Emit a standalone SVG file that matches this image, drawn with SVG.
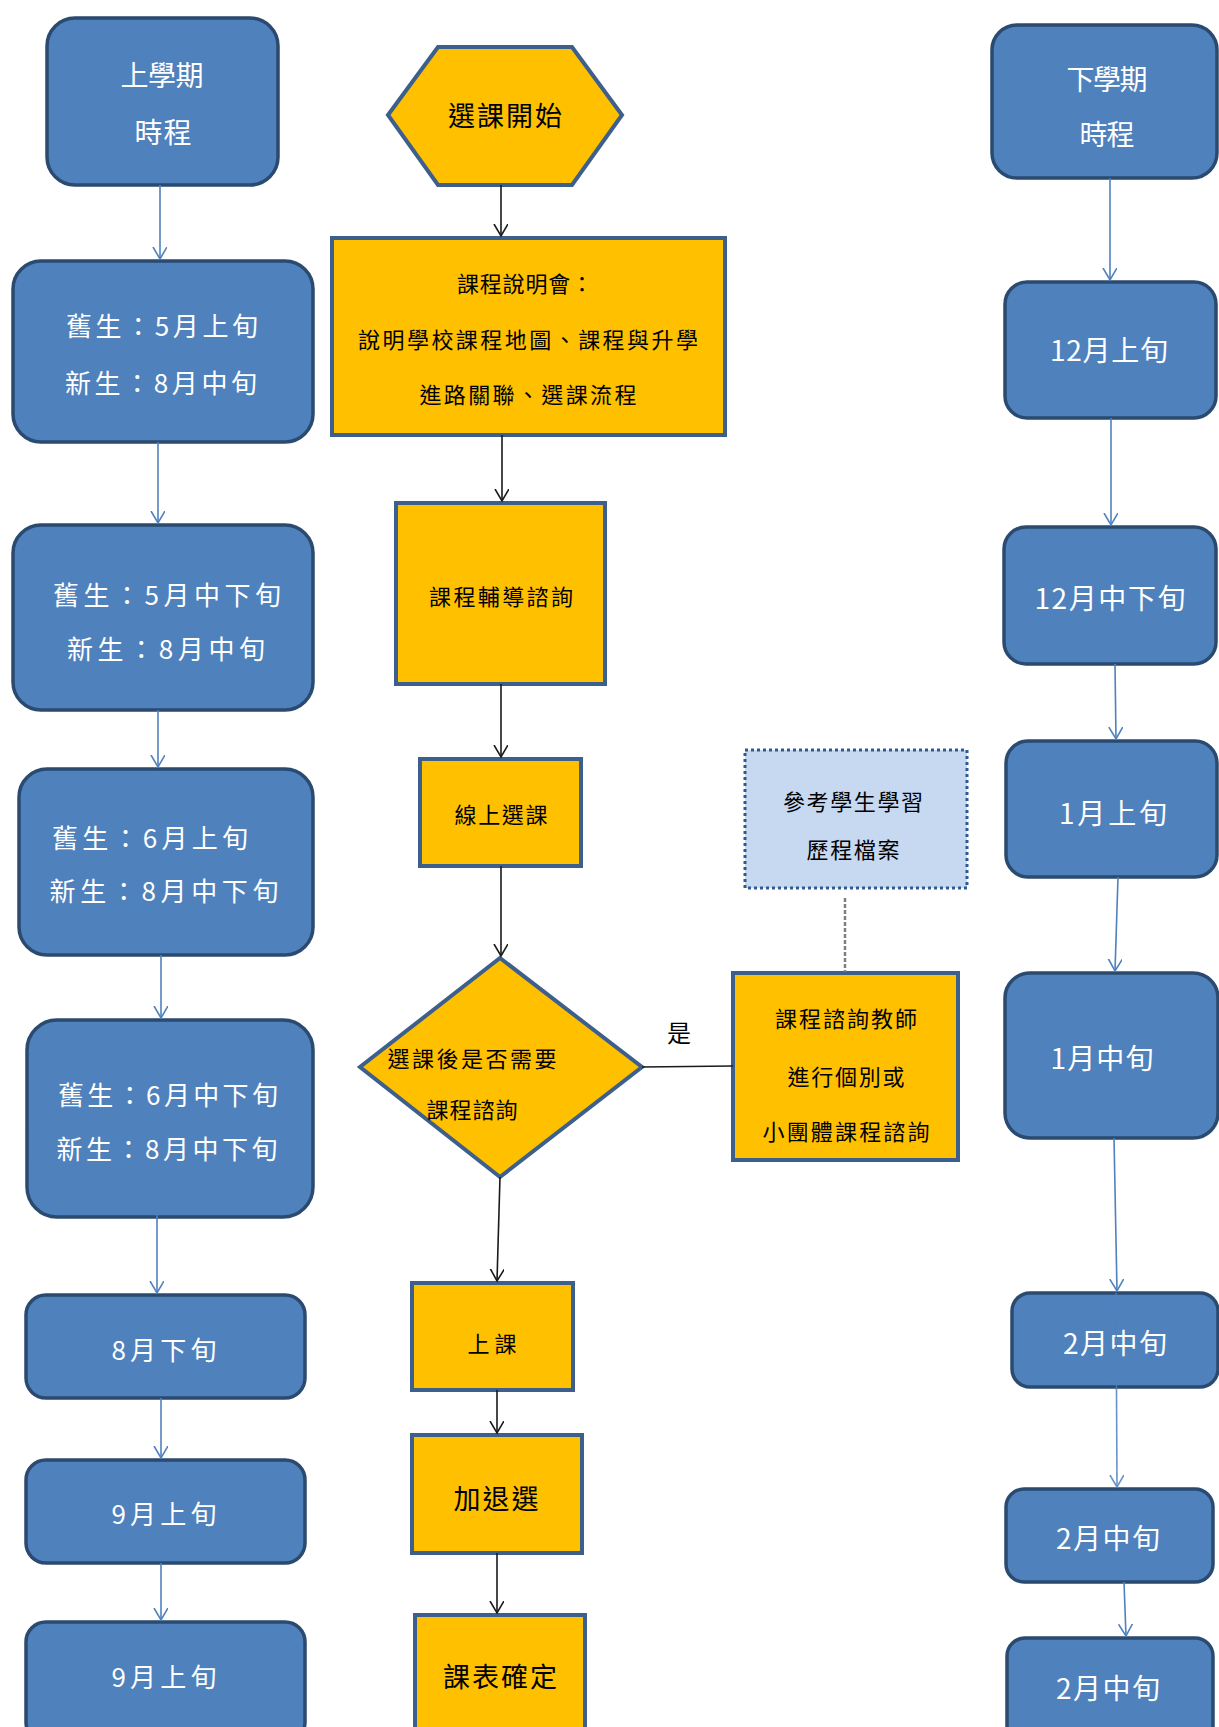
<svg xmlns="http://www.w3.org/2000/svg" width="1219" height="1727" viewBox="0 0 1219 1727">
<style>
.bb{fill:#4f81bd;stroke:#2b4a70;stroke-width:3.5}
.ob{fill:#ffc000;stroke:#3c5f8c;stroke-width:4}
.db{fill:#c6d9f1;stroke:#2f5a92;stroke-width:3;stroke-dasharray:3 3}
.wt{font-family:"Noto Sans CJK TC","Noto Sans CJK SC",sans-serif;font-size:26px;fill:#ffffff;dominant-baseline:central;text-anchor:middle}
.wt28{font-size:28px}
.bt{font-family:"Noto Sans CJK TC","Noto Sans CJK SC",sans-serif;font-size:22px;fill:#000000;dominant-baseline:central;text-anchor:middle}
.bt27{font-size:27px}
.bl{stroke:#4f81bd;stroke-width:1.6;fill:none}
.kl{stroke:#1a1a1a;stroke-width:1.6;fill:none}
.gl{stroke:#7f7f7f;stroke-width:2.5;fill:none;stroke-dasharray:4 2}
</style>
<defs>
<marker id="ab" markerUnits="userSpaceOnUse" markerWidth="14" markerHeight="16" refX="12" refY="7" orient="auto">
<path d="M0,0 L12,7 L0,14" fill="none" stroke="#4f81bd" stroke-width="1.6"/>
</marker>
<marker id="ak" markerUnits="userSpaceOnUse" markerWidth="14" markerHeight="16" refX="12" refY="7" orient="auto">
<path d="M0,0 L12,7 L0,14" fill="none" stroke="#1a1a1a" stroke-width="1.6"/>
</marker>
</defs>
<rect width="1219" height="1727" fill="#ffffff"/>

<!-- Left column -->
<g id="L1"><rect class="bb" x="47" y="18" width="231" height="167" rx="28"/>
<text class="wt wt28" x="162" y="74" textLength="83" lengthAdjust="spacing">上學期</text>
<text class="wt wt28" x="163" y="131" textLength="57" lengthAdjust="spacing">時程</text></g>
<g id="L2"><rect class="bb" x="13" y="261" width="300" height="181" rx="28"/>
<text class="wt" x="162" y="324" textLength="192" lengthAdjust="spacing">舊生：5月上旬</text>
<text class="wt" x="161" y="381" textLength="192" lengthAdjust="spacing">新生：8月中旬</text></g>
<g id="L3"><rect class="bb" x="13" y="525" width="300" height="185" rx="28"/>
<text class="wt" x="167" y="593" textLength="228" lengthAdjust="spacing">舊生：5月中下旬</text>
<text class="wt" x="166" y="647" textLength="198" lengthAdjust="spacing">新生：8月中旬</text></g>
<g id="L4"><rect class="bb" x="19" y="769" width="294" height="186" rx="28"/>
<text class="wt" x="150" y="836" textLength="196" lengthAdjust="spacing">舊生：6月上旬</text>
<text class="wt" x="164" y="889" textLength="229" lengthAdjust="spacing">新生：8月中下旬</text></g>
<g id="L5"><rect class="bb" x="27" y="1020" width="286" height="197" rx="30"/>
<text class="wt" x="168" y="1093" textLength="220" lengthAdjust="spacing">舊生：6月中下旬</text>
<text class="wt" x="167" y="1147" textLength="221" lengthAdjust="spacing">新生：8月中下旬</text></g>
<g id="L6"><rect class="bb" x="26" y="1295" width="279" height="103" rx="20"/>
<text class="wt" x="164" y="1348" textLength="105" lengthAdjust="spacing">8月下旬</text></g>
<g id="L7"><rect class="bb" x="26" y="1460" width="279" height="103" rx="20"/>
<text class="wt" x="164" y="1512" textLength="105" lengthAdjust="spacing">9月上旬</text></g>
<g id="L8"><rect class="bb" x="26" y="1622" width="279" height="120" rx="20"/>
<text class="wt" x="164" y="1675" textLength="105" lengthAdjust="spacing">9月上旬</text></g>

<!-- Right column -->
<g id="R1"><rect class="bb" x="992" y="25" width="225" height="153" rx="25"/>
<text class="wt wt28" x="1107" y="78" textLength="81" lengthAdjust="spacing">下學期</text>
<text class="wt wt28" x="1107" y="133" textLength="55" lengthAdjust="spacing">時程</text></g>
<g id="R2"><rect class="bb" x="1005" y="282" width="211" height="136" rx="22"/>
<text class="wt wt28" x="1109" y="349" textLength="118" lengthAdjust="spacing">12月上旬</text></g>
<g id="R3"><rect class="bb" x="1004" y="527" width="212" height="137" rx="22"/>
<text class="wt wt28" x="1110" y="597" textLength="151" lengthAdjust="spacing">12月中下旬</text></g>
<g id="R4"><rect class="bb" x="1006" y="741" width="211" height="136" rx="22"/>
<text class="wt wt28" x="1113" y="812" textLength="108" lengthAdjust="spacing">1月上旬</text></g>
<g id="R5"><rect class="bb" x="1005" y="973" width="213" height="165" rx="25"/>
<text class="wt wt28" x="1102" y="1057" textLength="103" lengthAdjust="spacing">1月中旬</text></g>
<g id="R6"><rect class="bb" x="1012" y="1293" width="206" height="94" rx="18"/>
<text class="wt wt28" x="1115" y="1342" textLength="104" lengthAdjust="spacing">2月中旬</text></g>
<g id="R7"><rect class="bb" x="1006" y="1489" width="207" height="93" rx="18"/>
<text class="wt wt28" x="1108" y="1537" textLength="104" lengthAdjust="spacing">2月中旬</text></g>
<g id="R8"><rect class="bb" x="1007" y="1638" width="206" height="110" rx="18"/>
<text class="wt wt28" x="1108" y="1687" textLength="104" lengthAdjust="spacing">2月中旬</text></g>

<!-- Center column -->
<g id="C0"><polygon class="ob" points="388,115 438,47 572,47 622,115 572,185 438,185"/>
<text class="bt bt27" x="505" y="114" textLength="114" lengthAdjust="spacing">選課開始</text></g>
<g id="C1"><rect class="ob" x="332" y="238" width="393" height="197"/>
<text class="bt" x="525" y="282" textLength="136" lengthAdjust="spacing">課程說明會：</text>
<text class="bt" x="528" y="338" textLength="340" lengthAdjust="spacing">說明學校課程地圖、課程與升學</text>
<text class="bt" x="528" y="393" textLength="217" lengthAdjust="spacing">進路關聯、選課流程</text></g>
<g id="C2"><rect class="ob" x="396" y="503" width="209" height="181"/>
<text class="bt" x="501" y="595" textLength="144" lengthAdjust="spacing">課程輔導諮詢</text></g>
<g id="C3"><rect class="ob" x="420" y="759" width="161" height="107"/>
<text class="bt" x="501" y="813" textLength="93" lengthAdjust="spacing">線上選課</text></g>
<g id="C4"><polygon class="ob" points="500,958 642,1067 500,1177 360,1067"/>
<text class="bt" x="472" y="1057" textLength="169" lengthAdjust="spacing">選課後是否需要</text>
<text class="bt" x="472" y="1108" textLength="91" lengthAdjust="spacing">課程諮詢</text></g>
<g id="C5"><rect class="db" x="745" y="750" width="222" height="138"/>
<text class="bt" x="853" y="800" textLength="140" lengthAdjust="spacing">參考學生學習</text>
<text class="bt" x="853" y="848" textLength="93" lengthAdjust="spacing">歷程檔案</text></g>
<g id="C6"><rect class="ob" x="733" y="973" width="225" height="187"/>
<text class="bt" x="846" y="1017" textLength="142" lengthAdjust="spacing">課程諮詢教師</text>
<text class="bt" x="846" y="1075" textLength="117" lengthAdjust="spacing">進行個別或</text>
<text class="bt" x="846" y="1130" textLength="167" lengthAdjust="spacing">小團體課程諮詢</text></g>
<g id="C7"><rect class="ob" x="412" y="1283" width="161" height="107"/>
<text class="bt" x="492" y="1342" textLength="49" lengthAdjust="spacing">上課</text></g>
<g id="C8"><rect class="ob" x="412" y="1435" width="170" height="118"/>
<text class="bt bt27" x="496" y="1497" textLength="85" lengthAdjust="spacing">加退選</text></g>
<g id="C9"><rect class="ob" x="415" y="1615" width="170" height="130"/>
<text class="bt bt27" x="500" y="1675" textLength="114" lengthAdjust="spacing">課表確定</text></g>

<!-- Connectors -->
<g id="connectors">
<line class="bl" x1="160" y1="185" x2="160" y2="259" marker-end="url(#ab)"/>
<line class="bl" x1="158" y1="442" x2="158" y2="523" marker-end="url(#ab)"/>
<line class="bl" x1="158" y1="710" x2="158" y2="767" marker-end="url(#ab)"/>
<line class="bl" x1="161" y1="955" x2="161" y2="1018" marker-end="url(#ab)"/>
<line class="bl" x1="157" y1="1165" x2="157" y2="1293" marker-end="url(#ab)"/>
<line class="bl" x1="161" y1="1398" x2="161" y2="1458" marker-end="url(#ab)"/>
<line class="bl" x1="161" y1="1563" x2="161" y2="1620" marker-end="url(#ab)"/>

<line class="bl" x1="1110" y1="178" x2="1110" y2="280" marker-end="url(#ab)"/>
<line class="bl" x1="1111" y1="418" x2="1111" y2="525" marker-end="url(#ab)"/>
<line class="bl" x1="1115" y1="664" x2="1116" y2="739" marker-end="url(#ab)"/>
<line class="bl" x1="1118" y1="877" x2="1115" y2="971" marker-end="url(#ab)"/>
<line class="bl" x1="1114" y1="1138" x2="1117" y2="1291" marker-end="url(#ab)"/>
<line class="bl" x1="1116" y1="1293" x2="1117" y2="1487" marker-end="url(#ab)" opacity="0.85"/>
<line class="bl" x1="1124" y1="1582" x2="1126" y2="1636" marker-end="url(#ab)"/>

<line class="kl" x1="501" y1="185" x2="501" y2="236" marker-end="url(#ak)"/>
<line class="kl" x1="502" y1="435" x2="502" y2="501" marker-end="url(#ak)"/>
<line class="kl" x1="501" y1="684" x2="501" y2="757" marker-end="url(#ak)"/>
<line class="kl" x1="501" y1="866" x2="501" y2="956" marker-end="url(#ak)"/>
<line class="kl" x1="642" y1="1067" x2="733" y2="1066"/>
<line class="kl" x1="500" y1="1177" x2="497" y2="1281" marker-end="url(#ak)"/>
<line class="kl" x1="497" y1="1390" x2="497" y2="1433" marker-end="url(#ak)"/>
<line class="kl" x1="497" y1="1553" x2="497" y2="1613" marker-end="url(#ak)"/>
<line class="gl" x1="845" y1="898" x2="845" y2="972"/>
<text class="bt" x="679" y="1031" style="font-size:24px">是</text>
</g>
</svg>
